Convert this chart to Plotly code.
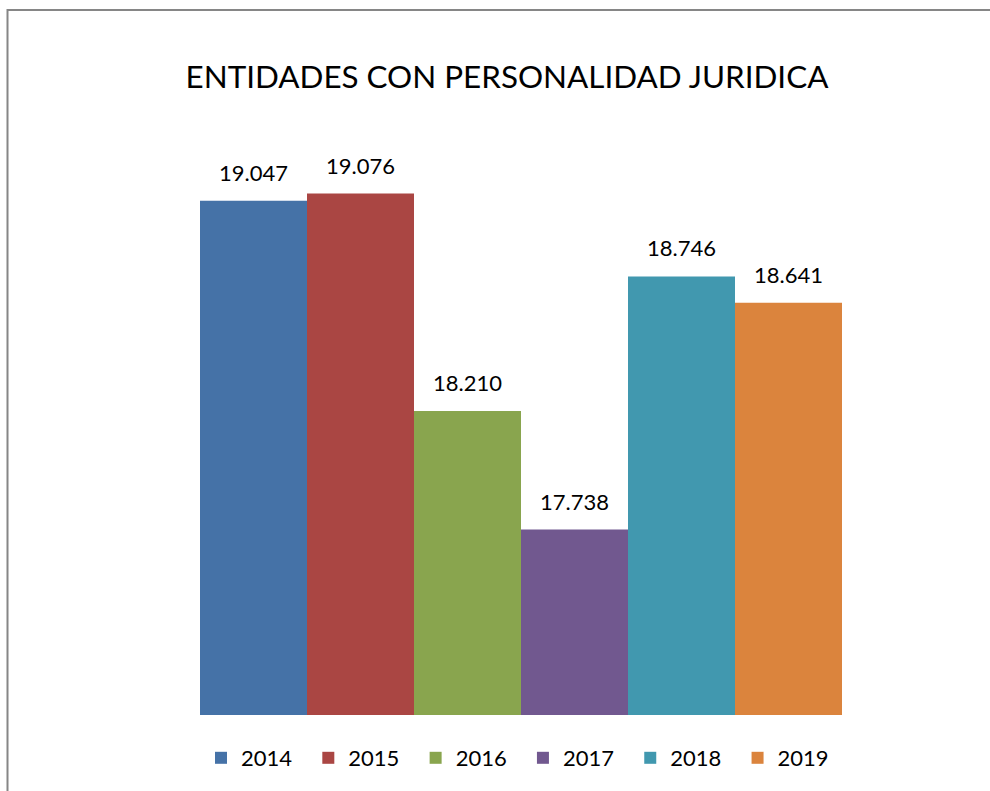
import plotly.graph_objects as go

title = "ENTIDADES CON PERSONALIDAD JURIDICA"
years = ["2014", "2015", "2016", "2017", "2018", "2019"]
values = [19047, 19076, 18210, 17738, 18746, 18641]
colors = ["#4572A7", "#AA4643", "#89A54E", "#71588F", "#4198AF", "#DB843D"]

FONT = "Lato, 'Open Sans', sans-serif"

W, H = 990, 791
L, T = 200, 87
R = W - 842
B = H - 715
pw, ph = W - L - R, H - T - B

fig = go.Figure()
for i, (yr, v, c) in enumerate(zip(years, values, colors)):
    fig.add_trace(go.Bar(x=[i], y=[v], width=1, name=yr + "\u00a0\u00a0",
                         marker=dict(color=c, line=dict(width=0)),
                         hoverinfo="skip"))
    fig.add_annotation(x=i, y=v, text=f"{v:,}".replace(",", "."),
                       showarrow=False, yanchor="bottom", yshift=13,
                       font=dict(family=FONT, size=22, color="#000000"))

fig.add_shape(type="rect", xref="paper", yref="paper",
              x0=(7.5 - L) / pw, x1=(1030 - L) / pw,
              y0=(H - B - 830) / ph, y1=(H - B - 10) / ph,
              line=dict(color="#868686", width=2), fillcolor="rgba(0,0,0,0)",
              layer="above")

fig.update_layout(
    width=W, height=H,
    margin=dict(l=L, r=R, t=T, b=B),
    paper_bgcolor="white", plot_bgcolor="white",
    barmode="overlay",
    title=dict(text=title, x=507 / W, xanchor="center", xref="container",
               y=1 - 77 / H, yanchor="middle", yref="container",
               font=dict(family=FONT, size=31.4, color="#000000")),
    xaxis=dict(range=[-0.5, 5.5], visible=False, fixedrange=True),
    yaxis=dict(range=[17000, 19500], visible=False, fixedrange=True),
    showlegend=True,
    legend=dict(orientation="h", x=(523 - L) / pw, xanchor="center", xref="paper",
                y=-(758 - (H - B)) / ph, yanchor="middle",
                font=dict(family=FONT, size=22, color="#000000"),
                itemwidth=30, tracegroupgap=0),
)

fig.write_html(
    "out.html",
    config={"displayModeBar": False, "staticPlot": True},
    post_script="document.body.style.margin='0';document.body.style.overflow='hidden';"
                "document.documentElement.style.overflow='hidden';",
)
